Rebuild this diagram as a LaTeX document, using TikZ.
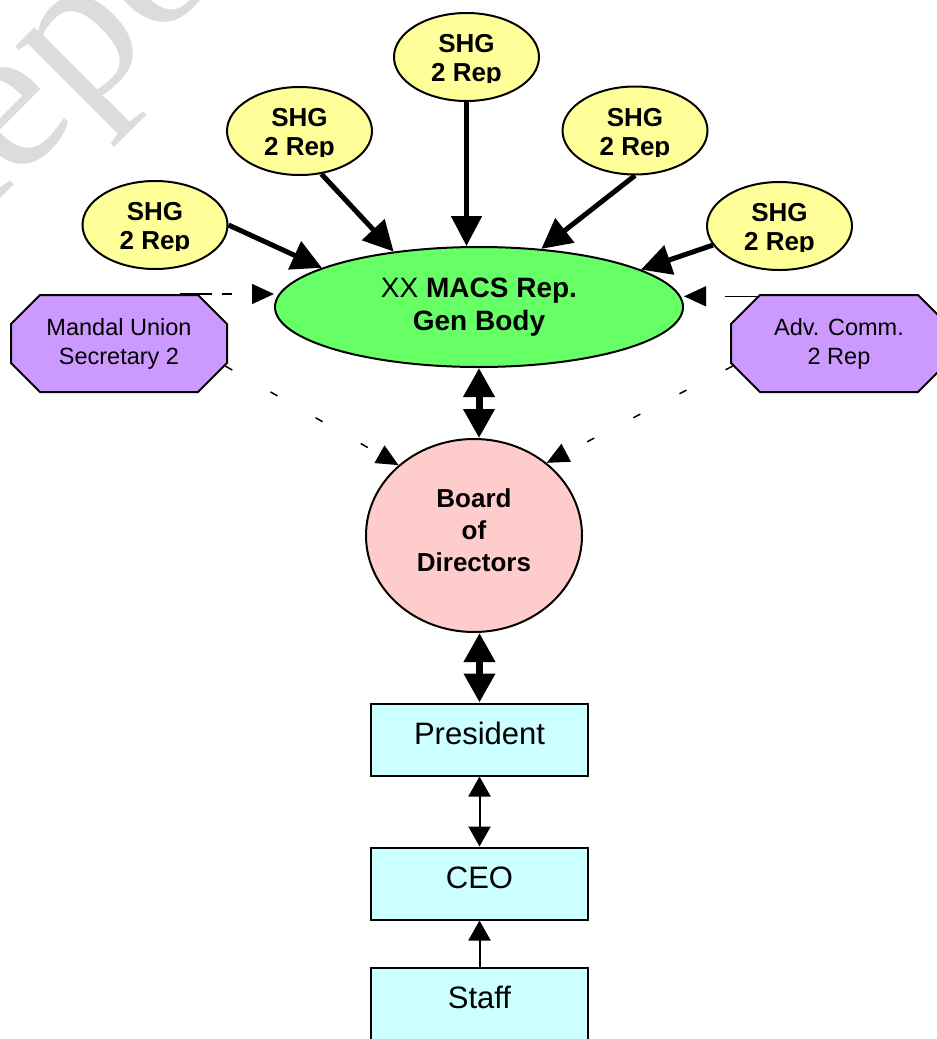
\documentclass[tikz,border=0pt]{standalone}
\usepackage{fontspec}
\setmainfont{Liberation Sans}
\newfontfamily\wmfont{Liberation Serif}
\usetikzlibrary{arrows.meta,shapes.geometric,shapes.misc}
\definecolor{shgyellow}{HTML}{FFFF99}
\definecolor{gbgreen}{HTML}{66FF66}
\definecolor{octpurple}{HTML}{CC99FF}
\definecolor{bodpink}{HTML}{FFCCCC}
\definecolor{boxcyan}{HTML}{CCFFFF}
\definecolor{wmgray}{HTML}{DCDCDC}
\newcommand{\shgnode}[3]{%
  \node[shg] (#1) at (#2,-#3) {};
  \begin{scope}
    \clip (#2-70,-#3+40) rectangle (#2+70,-#3-25.5);
    \node[shgtext] (#1t) at (#2,-#3-3.95) {SHG\\2 Rep};
  \end{scope}}
\begin{document}
\begin{tikzpicture}[x=1pt,y=1pt,
  shg/.style={ellipse, draw, line width=2pt, fill=shgyellow, minimum width=145pt, minimum height=88pt, inner sep=0pt},
  shgtext/.style={font=\fontsize{26}{29}\selectfont\bfseries, align=center, inner sep=0pt},
  gbody/.style={ellipse, draw, line width=2pt, fill=gbgreen, minimum width=408pt, minimum height=120pt, inner sep=0pt, font=\fontsize{28}{33}\selectfont, align=center},
  octbox/.style={chamfered rectangle, chamfered rectangle xsep=28pt, draw, line width=2pt, fill=octpurple, minimum width=216pt, minimum height=97pt, inner sep=0pt, font=\fontsize{23.5}{29}\selectfont, align=center},
  board/.style={ellipse, draw, line width=2pt, fill=bodpink, minimum width=216pt, minimum height=193pt, inner sep=0pt},
  boardtext/.style={font=\fontsize{26}{32}\selectfont\bfseries, align=center, inner sep=0pt},
  staffbox/.style={rectangle, draw, line width=2pt, fill=boxcyan, minimum width=217pt, minimum height=72pt, inner sep=0pt, font=\fontsize{31}{37}\selectfont, text height=22pt, text depth=12.8pt},
  wm/.style={font=\wmfont\fontsize{210}{210}\selectfont, text=wmgray, rotate=45, anchor=base, inner sep=0pt},
  thickarrow/.style={line width=5pt, -{Triangle[length=30pt,width=30pt]}},
  bigdouble/.style={line width=7pt, {Triangle[length=29pt,width=30pt]}-{Triangle[length=29pt,width=30pt]}},
  smalldouble/.style={line width=2pt, {Triangle[length=20pt,width=22pt]}-{Triangle[length=20pt,width=22pt]}},
  smallarrow/.style={line width=2pt, -{Triangle[length=20pt,width=22pt]}},
  dashtop/.style={line width=1.5pt, dash pattern=on 32pt off 10pt on 10pt off 30pt, -{Triangle[length=22pt,width=20pt]}},
  dashtopr/.style={line width=1.5pt, dash pattern=on 32pt off 40pt, -{Triangle[length=22pt,width=20pt]}},
  dashlow/.style={line width=1.5pt, dash pattern=on 8pt off 44pt, -{Triangle[length=22pt,width=20pt]}}
]
\useasboundingbox (0,0) rectangle (937,-1039);
\clip (0,0) rectangle (937,-1039);

% watermark
\node[wm] (wmark) at (118,-81) {Report};

% SHG groups
\shgnode{s1}{466.5}{57}
\shgnode{s2}{299.5}{131}
\shgnode{s3}{155}{225}
\shgnode{s4}{635}{130.5}
\shgnode{s5}{779.5}{226}

% main nodes
\node[gbody] (gb) at (479,-307) {XX \textbf{MACS Rep.}\\\textbf{Gen Body}};
\node[octbox] (lmu) at (119,-343.5) {Mandal Union\\Secretary 2};
\node[octbox] (adv) at (839,-343.5) {Adv. Comm.\\2 Rep};
\node[board] (bod) at (474,-535.5) {};
\node[boardtext] (bodtext) at (474,-530) {Board\\of\\Directors};
\node[staffbox] (pres) at (479.5,-739.5) {President};
\node[staffbox] (ceo) at (479.5,-883.5) {CEO};
\node[staffbox] (staff) at (479.5,-1003.5) {Staff};

% SHG arrows
\draw[thickarrow] (s1.south) -- (s1.south |- gb.north);
\draw[thickarrow] (s2.297) -- (gb.147);
\draw[thickarrow] (s3.east) -- (gb.166);
\draw[thickarrow] (s4.south) -- (gb.43);
\draw[thickarrow] (s5.196) -- (gb.13.5);

% dashed advisory links
\draw[dashtop] (lmu.39.4) -- (lmu.39.4 -| gb.west);
\draw[dashtopr] (adv.150) -- (adv.150 -| gb.east);
\draw[dashlow] (lmu.-12.6) -- (bod.137.5);
\draw[dashlow] (adv.192.8) -- (bod.45.6);

% vertical chain
\draw[bigdouble] (gb.south) -- (gb.south |- bod.north);
\draw[bigdouble] (pres.north |- bod.south) -- (pres.north);
\draw[smalldouble] (pres.south) -- (ceo.north);
\draw[smallarrow] (staff.north) -- (ceo.south);
\end{tikzpicture}
\end{document}
